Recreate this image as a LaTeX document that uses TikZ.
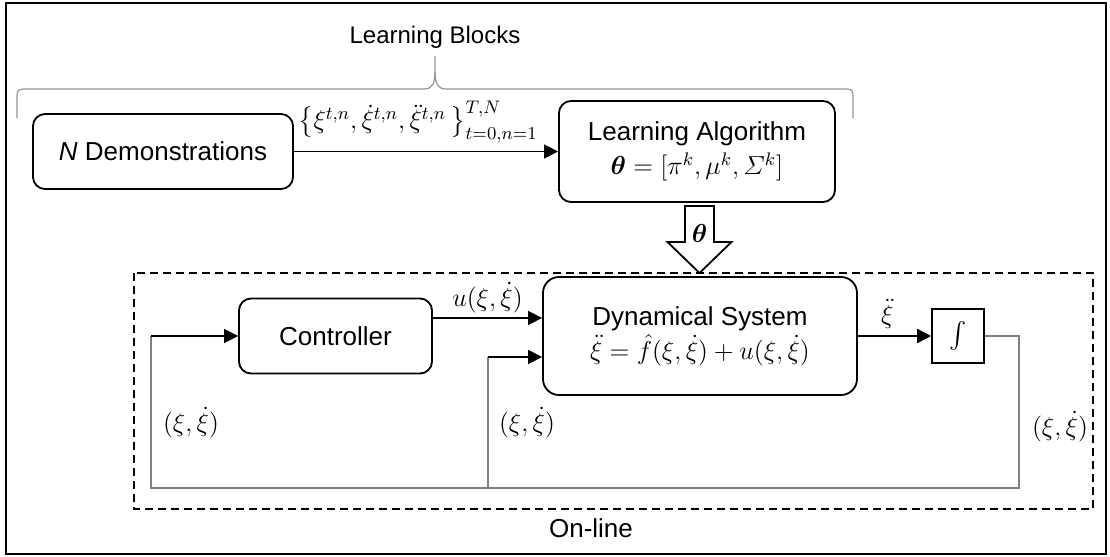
\documentclass[tikz,border=0pt]{standalone}
\usepackage{fix-cm}
\usepackage{amsmath,amssymb,bm}
\usepackage[no-math]{fontspec}
\setmainfont{Liberation Sans}
\usetikzlibrary{arrows.meta,positioning,calc}

\begin{document}
\begin{tikzpicture}[x=0.5pt,y=-0.5pt,
		every node/.style={font=\fontsize{13}{16}\selectfont},
		block/.style={draw,line width=0.9pt,rounded corners=6pt,align=center},
		flow/.style={-{Triangle[length=7pt,width=7pt]},line width=0.8pt},
		fb/.style={draw=gray,line width=0.6pt},
		braceline/.style={draw=gray!85,line width=0.6pt}]
				\useasboundingbox (0,0) rectangle (1110,557);
				\draw[line width=1.3pt] (6,3) rectangle (1106,554);

				\node (blocks) at (435,37) {\fontsize{12}{14}\selectfont Learning Blocks};
				\draw[braceline] (17,118) -- (17,100) .. controls (17,89) .. (28,89)
				-- (424,89) .. controls (433,89) and (435,82) .. (435,72) -- (435,56);
				\draw[braceline] (435,72) .. controls (435,82) and (437,89) .. (446,89)
				-- (842,89) .. controls (853,89) .. (853,100) -- (853,118);

				\node[block,minimum width=130pt,minimum height=37.5pt] (demo) at (163,151.5)
				{\textit{N} Demonstrations};
				\node[block,minimum width=138pt,minimum height=50.5pt] (learn) at (697,151.5)
				{Learning Algorithm\\[1pt] $\bm{\theta}=[\pi^k,\mu^k,\varSigma^k]$};

				\draw[flow] (demo) -- (learn);
				\node[anchor=south west,inner sep=0pt] (setlbl) at (298,143)
				{$\bigl\{\xi^{t,n},\dot\xi^{t,n},\ddot\xi^{t,n}\,\bigr\}_{t=0,n=1}^{T,N}$};

				\draw[line width=0.9pt,fill=white] (685,206) -- (714,206) -- (714,242)
				-- (731.5,242) -- (699.5,273) -- (667.5,242) -- (685,242) -- cycle;
				\node (theta) at (699.5,233) {$\bm{\theta}$};

				\draw[dashed,dash pattern=on 4pt off 2.5pt,line width=0.9pt]
				(134,273) rectangle (1093,509);
				\node[anchor=west] (online) at (542,528) {On-line};

				\node[block,minimum width=96.5pt,minimum height=37.5pt] (ctrl) at (335.5,336)
				{Controller};
				\node[block,rounded corners=8pt,minimum width=157pt,minimum height=59pt] (dyn) at (700,336)
				{Dynamical System\\[1pt] $\ddot\xi=\hat f(\xi,\dot\xi)+u(\xi,\dot\xi)$};
				\node[draw,line width=0.8pt,minimum width=26pt,minimum height=27pt] (intg) at (958,336)
				{$\int$};

				\coordinate (uout) at ($(ctrl.east)+(0,-18)$);
				\coordinate (uin) at ($(dyn.west)+(0,-18)$);
				\coordinate (xin) at ($(dyn.west)+(0,21)$);
				\coordinate (loopR) at (1019,488);
				\coordinate (loopL) at (151,488);
				\coordinate (loopM) at (488,488);

				\draw[flow] (uout) -- (uin) node[midway,above=-1pt] (ulbl) {$u(\xi,\dot\xi)$};
				\draw[flow] (dyn) -- (intg) node[pos=0.4,above=0pt] (acc) {$\ddot\xi$};

				\draw[fb] (intg.east) -| (loopR) -- (loopL) -- (loopL |- ctrl.west);
				\draw[flow] (loopL |- ctrl.west) -- (ctrl.west);
				\draw[fb] (loopM) -- (loopM |- xin);
				\draw[flow] (loopM |- xin) -- (xin);

				\foreach \x/\y/\nm in {191/423/lblL,527/423/lblM,1060/427/lblR}
				{
					\node (\nm) at (\x,\y) {$(\xi,\dot\xi)$};
				}
			\end{tikzpicture}
\end{document}
